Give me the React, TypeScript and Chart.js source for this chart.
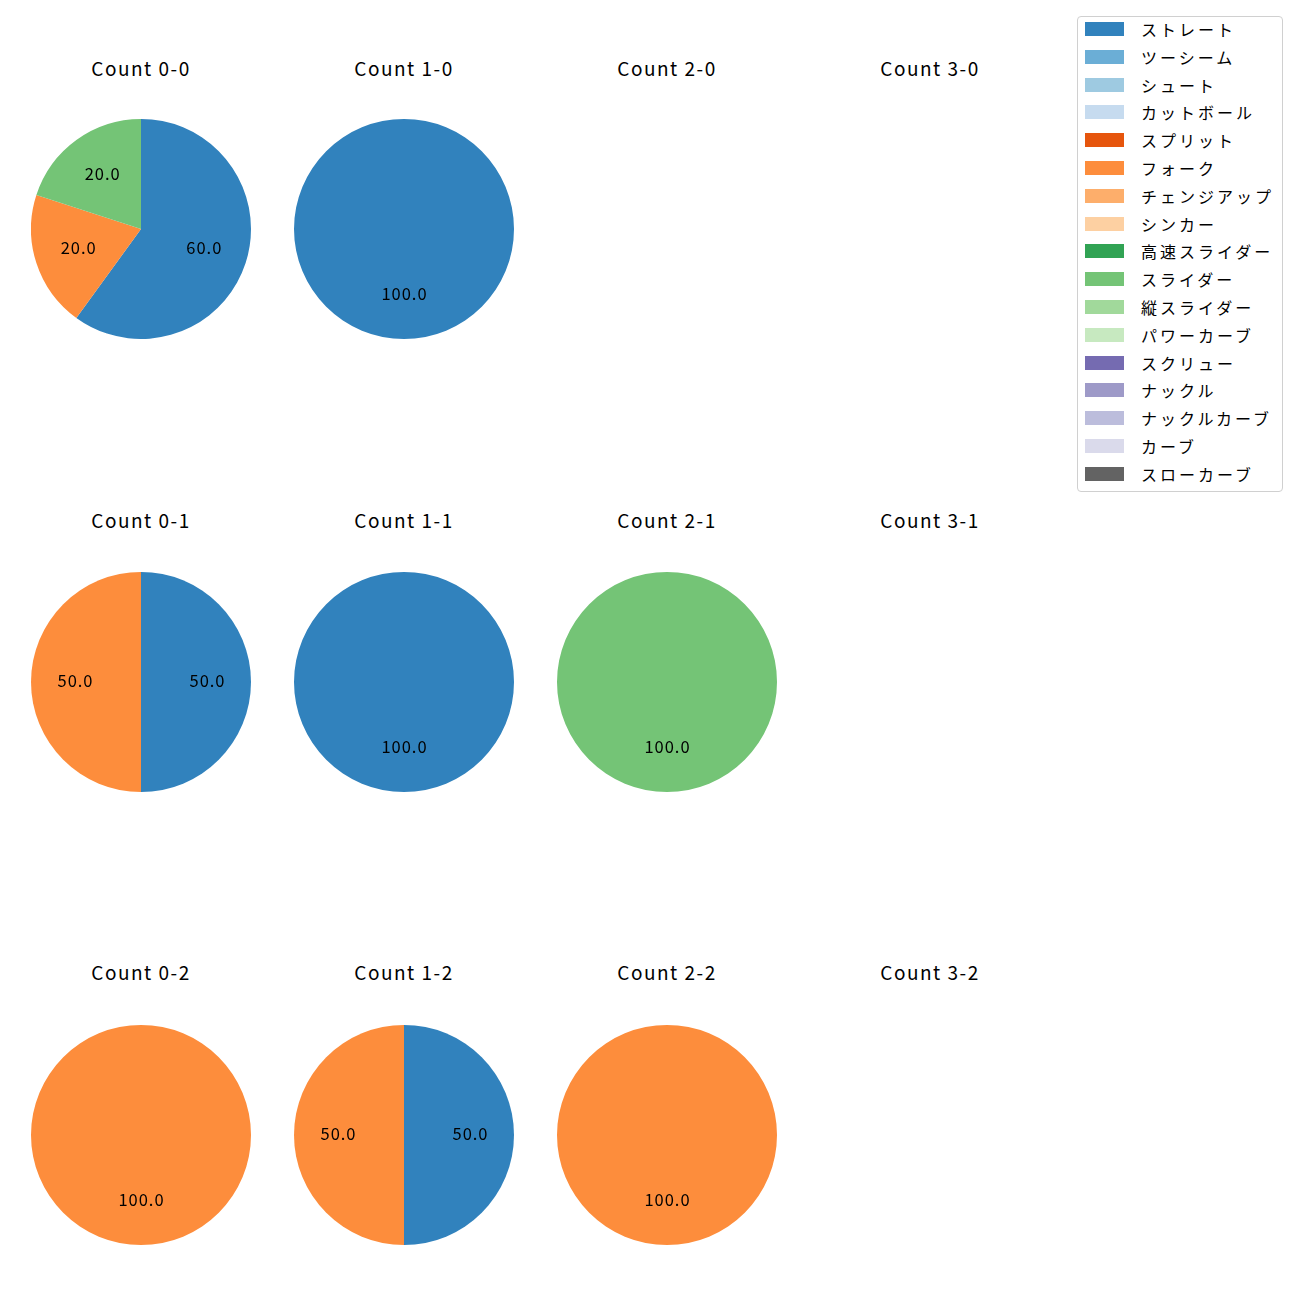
import React, { useEffect, useRef } from "react";
import { Chart, registerables } from "chart.js";

Chart.register(...registerables);

const pitchTypes = [
  "ストレート", "ツーシーム", "シュート", "カットボール", "スプリット", "フォーク",
  "チェンジアップ", "シンカー", "高速スライダー", "スライダー", "縦スライダー",
  "パワーカーブ", "スクリュー", "ナックル", "ナックルカーブ", "カーブ", "スローカーブ",
];

const pitchColors = [
  "#3182bd", "#6baed6", "#9ecae1", "#c6dbef", "#e6550d", "#fd8d3c",
  "#fdae6b", "#fdd0a2", "#31a354", "#74c476", "#a1d99b", "#c7e9c0",
  "#756bb1", "#9e9ac8", "#bcbddc", "#dadaeb", "#636363",
];

const countLabels = [
  "Count 0-0", "Count 1-0", "Count 2-0", "Count 3-0",
  "Count 0-1", "Count 1-1", "Count 2-1", "Count 3-1",
  "Count 0-2", "Count 1-2", "Count 2-2", "Count 3-2",
];

//                 St Tw Sh Ct Sp Fk Ch Si HS Sl VS PC Sc Kn KC Cv SC
const count00 = [60, 0, 0, 0, 0, 20, 0, 0, 0, 20, 0, 0, 0, 0, 0, 0, 0];
const count10 = [100, 0, 0, 0, 0, 0, 0, 0, 0, 0, 0, 0, 0, 0, 0, 0, 0];
const count20: number[] = [];
const count30: number[] = [];
const count01 = [50, 0, 0, 0, 0, 50, 0, 0, 0, 0, 0, 0, 0, 0, 0, 0, 0];
const count11 = [100, 0, 0, 0, 0, 0, 0, 0, 0, 0, 0, 0, 0, 0, 0, 0, 0];
const count21 = [0, 0, 0, 0, 0, 0, 0, 0, 0, 100, 0, 0, 0, 0, 0, 0, 0];
const count31: number[] = [];
const count02 = [0, 0, 0, 0, 0, 100, 0, 0, 0, 0, 0, 0, 0, 0, 0, 0, 0];
const count12 = [50, 0, 0, 0, 0, 50, 0, 0, 0, 0, 0, 0, 0, 0, 0, 0, 0];
const count22 = [0, 0, 0, 0, 0, 100, 0, 0, 0, 0, 0, 0, 0, 0, 0, 0, 0];
const count32: number[] = [];

const countData = [
  count00, count10, count20, count30,
  count01, count11, count21, count31,
  count02, count12, count22, count32,
];

const FONT = "'Noto Sans CJK JP', 'Noto Sans', sans-serif";
const colX = [141, 404, 667, 930];
const rowY = [229, 682, 1135];
const titleY = [68, 520, 972];
const R = 110;

const labelPlugin = {
  id: "pctLabels",
  afterDatasetsDraw(chart: any) {
    const ctx = chart.ctx;
    const meta = chart.getDatasetMeta(0);
    const data = chart.data.datasets[0].data as number[];
    const total = data.reduce((a: number, b: number) => a + b, 0);
    ctx.save();
    ctx.fillStyle = "#000";
    ctx.font = `16.5px ${FONT}`;
    (ctx as any).letterSpacing = "1px";
    ctx.textAlign = "center";
    ctx.textBaseline = "middle";
    meta.data.forEach((arc: any, i: number) => {
      const v = data[i];
      if (!v) return;
      const p = arc.getProps(["x", "y", "startAngle", "endAngle", "outerRadius"], true);
      const mid = (p.startAngle + p.endAngle) / 2;
      const r = p.outerRadius * 0.6;
      ctx.fillText(((v / total) * 100).toFixed(1), p.x + Math.cos(mid) * r + 0.5, p.y + Math.sin(mid) * r - 1.5);
    });
    ctx.restore();
  },
};

function Pie({ values }: { values: number[] }) {
  const ref = useRef<HTMLCanvasElement>(null);
  useEffect(() => {
    if (!ref.current) return;
    const chart = new Chart(ref.current, {
      type: "pie",
      data: {
        labels: pitchTypes,
        datasets: [{ data: values, backgroundColor: pitchColors, borderWidth: 0 }],
      },
      options: {
        responsive: false,
        animation: false,
        layout: { padding: 0 },
        plugins: { legend: { display: false }, tooltip: { enabled: false } },
      },
      plugins: [labelPlugin],
    });
    return () => chart.destroy();
  }, [values]);
  return <canvas ref={ref} width={2 * R} height={2 * R} style={{ width: 2 * R, height: 2 * R, display: "block" }} />;
}

export default function App() {
  return (
    <div style={{ position: "absolute", left: 0, top: 0, width: 1300, height: 1300, background: "#fff", fontFamily: FONT }}>
      {countLabels.map((label, i) => {
        const c = i % 4;
        const r = Math.floor(i / 4);
        const vals = countData[i];
        return (
          <React.Fragment key={label}>
            <div style={{ position: "absolute", left: colX[c] - 100, width: 200, top: titleY[r] - 14, height: 28, lineHeight: "28px", textAlign: "center", fontSize: 19, letterSpacing: "1.5px", color: "#000" }}>
              {label}
            </div>
            {vals.length > 0 && (
              <div style={{ position: "absolute", left: colX[c] - R, top: rowY[r] - R }}>
                <Pie values={vals} />
              </div>
            )}
          </React.Fragment>
        );
      })}
      <div style={{ position: "absolute", left: 1077, top: 16, width: 204, height: 474, border: "1px solid #d0d0d0", borderRadius: 4, background: "#fff" }}>
        {pitchTypes.map((name, i) => (
          <div key={name} style={{ position: "absolute", left: 7, top: 3 + i * 27.8, height: 18, display: "flex", alignItems: "center" }}>
            <div style={{ width: 39, height: 14, background: pitchColors[i] }} />
            <div style={{ marginLeft: 17, fontSize: 16, lineHeight: "18px", letterSpacing: "3px", whiteSpace: "nowrap", color: "#000" }}>{name}</div>
          </div>
        ))}
      </div>
    </div>
  );
}
